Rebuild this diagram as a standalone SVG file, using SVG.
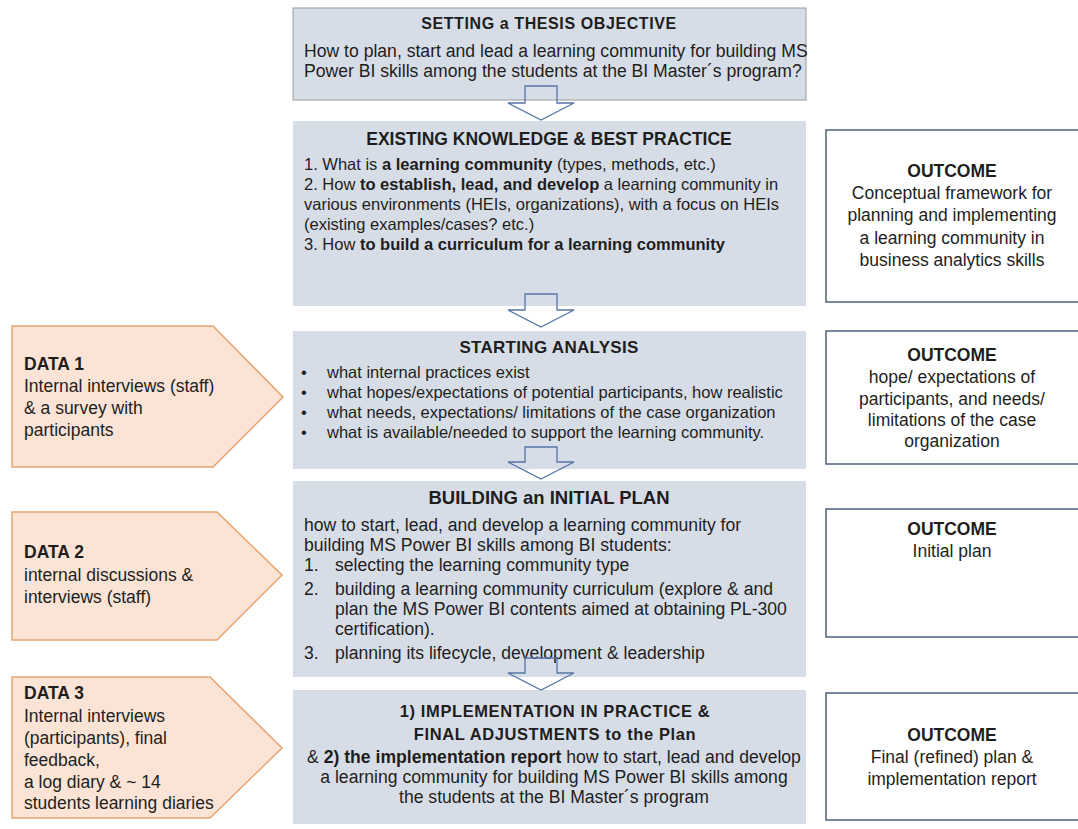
<svg xmlns="http://www.w3.org/2000/svg" width="1078" height="829" viewBox="0 0 1078 829">
<style>
text{font-family:"Liberation Sans",Arial,sans-serif;fill:#1e1e1e;}
.b{font-weight:bold;}
.t{font-size:16.5px;}
.t2{font-size:17.6px;}
.c{text-anchor:middle;}
.o{font-size:17.5px;}
.box{fill:#d7dde6;}
.out{fill:#ffffff;stroke:#4e627c;stroke-width:1.5;}
.data{fill:#fbe4d5;stroke:#e7a471;stroke-width:1.5;}
.arr{fill:none;stroke:#5576a6;stroke-width:1.3;}
</style>
<rect width="1078" height="829" fill="#ffffff"/>

<g id="n-thesis">
<rect class="box" x="293" y="8" width="513" height="92" stroke="#9a9a9a" stroke-width="1"/>
<text class="b c" x="549" y="29" font-size="16" letter-spacing="0.6">SETTING a THESIS OBJECTIVE</text>
<text class="t2" x="304" y="57">How to plan, start and lead a learning community for building MS</text>
<text class="t2" x="304" y="77">Power BI skills among the students at the BI Master´s program?</text>
</g>

<g id="n-knowledge">
<rect class="box" x="293" y="121" width="513" height="185"/>
<text class="b c" x="549" y="145" font-size="17.5">EXISTING KNOWLEDGE &amp; BEST PRACTICE</text>
<text class="t" x="304" y="170" font-size="16.7">1. What is <tspan class="b">a learning community</tspan> (types, methods, etc.)</text>
<text class="t" x="304" y="190" font-size="16.7">2. How <tspan class="b">to establish, lead, and develop</tspan> a learning community in</text>
<text class="t" x="304" y="210" font-size="16.7">various environments (HEIs, organizations), with a focus on HEIs</text>
<text class="t" x="304" y="230" font-size="16.7">(existing examples/cases? etc.)</text>
<text class="t" x="304" y="250" font-size="16.7">3. How <tspan class="b">to build a curriculum for a learning community</tspan></text>
</g>

<g id="n-analysis">
<rect class="box" x="293" y="331" width="513" height="138"/>
<text class="b c" x="549" y="353" font-size="17" letter-spacing="0.3">STARTING ANALYSIS</text>
<text class="t" x="301" y="378">•</text><text class="t" x="327" y="378" font-size="16.7">what internal practices exist</text>
<text class="t" x="301" y="398">•</text><text class="t" x="327" y="398" font-size="16.7">what hopes/expectations of potential participants, how realistic</text>
<text class="t" x="301" y="418">•</text><text class="t" x="327" y="418" font-size="16.7">what needs, expectations/ limitations of the case organization</text>
<text class="t" x="301" y="438">•</text><text class="t" x="327" y="438" font-size="16.7">what is available/needed to support the learning community.</text>
</g>

<g id="n-plan">
<rect class="box" x="293" y="481" width="513" height="196"/>
<text class="b c" x="549" y="504" font-size="18.5">BUILDING an INITIAL PLAN</text>
<text class="t2" x="304" y="531">how to start, lead, and develop a learning community for</text>
<text class="t2" x="304" y="551">building MS Power BI skills among BI students:</text>
<text class="t2" x="304" y="571">1.</text><text class="t2" x="335" y="571">selecting the learning community type</text>
<text class="t2" x="304" y="595">2.</text><text class="t2" x="335" y="595">building a learning community curriculum (explore &amp; and</text>
<text class="t2" x="335" y="615">plan the MS Power BI contents aimed at obtaining PL-300</text>
<text class="t2" x="335" y="635">certification).</text>
<text class="t2" x="304" y="659">3.</text><text class="t2" x="335" y="659">planning its lifecycle, development &amp; leadership</text>
</g>

<g id="n-impl">
<rect class="box" x="293" y="690" width="513" height="134"/>
<text class="b c" x="555" y="717" font-size="16.5" letter-spacing="0.6">1) IMPLEMENTATION IN PRACTICE &amp;</text>
<text class="b c" x="555" y="740" font-size="16.5" letter-spacing="0.6">FINAL ADJUSTMENTS to the Plan</text>
<text class="t2 c" x="554" y="763">&amp; <tspan class="b">2) the implementation report</tspan> how to start, lead and develop</text>
<text class="t2 c" x="554" y="783">a learning community for building MS Power BI skills among</text>
<text class="t2 c" x="554" y="803">the students at the BI Master´s program</text>
</g>

<g id="connectors">
<path class="arr" d="M525,86 H557 V103 H574 L541,120 L508,103 H525 Z"/>
<path class="arr" d="M525,294 H557 V310 H574 L541,327 L508,310 H525 Z"/>
<path class="arr" d="M525,447 H557 V462 H574 L541,479 L508,462 H525 Z"/>
<path class="arr" d="M525,658 H557 V673 H574 L541,690 L508,673 H525 Z"/>
</g>

<g id="n-out1">
<rect class="out" x="826" y="130" width="260" height="172"/>
<text class="o b c" x="952" y="177" font-size="18">OUTCOME</text>
<text class="o c" x="952" y="199">Conceptual framework for</text>
<text class="o c" x="952" y="221">planning and implementing</text>
<text class="o c" x="952" y="244">a learning community in</text>
<text class="o c" x="952" y="266">business analytics skills</text>
</g>

<g id="n-out2">
<rect class="out" x="826" y="331" width="260" height="133"/>
<text class="o b c" x="952" y="361">OUTCOME</text>
<text class="o c" x="952" y="383">hope/ expectations of</text>
<text class="o c" x="952" y="405">participants, and needs/</text>
<text class="o c" x="952" y="426">limitations of the case</text>
<text class="o c" x="952" y="447">organization</text>
</g>

<g id="n-out3">
<rect class="out" x="826" y="509" width="260" height="128"/>
<text class="o b c" x="952" y="535">OUTCOME</text>
<text class="o c" x="952" y="557">Initial plan</text>
</g>

<g id="n-out4">
<rect class="out" x="826" y="693" width="260" height="127"/>
<text class="o b c" x="952" y="741">OUTCOME</text>
<text class="o c" x="952" y="763">Final (refined) plan &amp;</text>
<text class="o c" x="952" y="785">implementation report</text>
</g>

<g id="n-data1">
<path class="data" d="M12,326 H213 L283,397 L213,467 H12 Z"/>
<text class="o b" x="24" y="370">DATA 1</text>
<text class="o" x="24" y="392">Internal interviews (staff)</text>
<text class="o" x="24" y="414">&amp; a survey with</text>
<text class="o" x="24" y="436">participants</text>
</g>

<g id="n-data2">
<path class="data" d="M12,512 H217 L282,575 L217,640 H12 Z"/>
<text class="o b" x="24" y="558">DATA 2</text>
<text class="o" x="24" y="581">internal discussions &amp;</text>
<text class="o" x="24" y="603">interviews (staff)</text>
</g>

<g id="n-data3">
<path class="data" d="M12,677 H210 L282,748 L210,818 H12 Z"/>
<text class="o b" x="24" y="699">DATA 3</text>
<text class="o" x="24" y="722">Internal interviews</text>
<text class="o" x="24" y="744">(participants), final</text>
<text class="o" x="24" y="766">feedback,</text>
<text class="o" x="24" y="788">a log diary &amp; ~ 14</text>
<text class="o" x="24" y="809">students learning diaries</text>
</g>
</svg>
